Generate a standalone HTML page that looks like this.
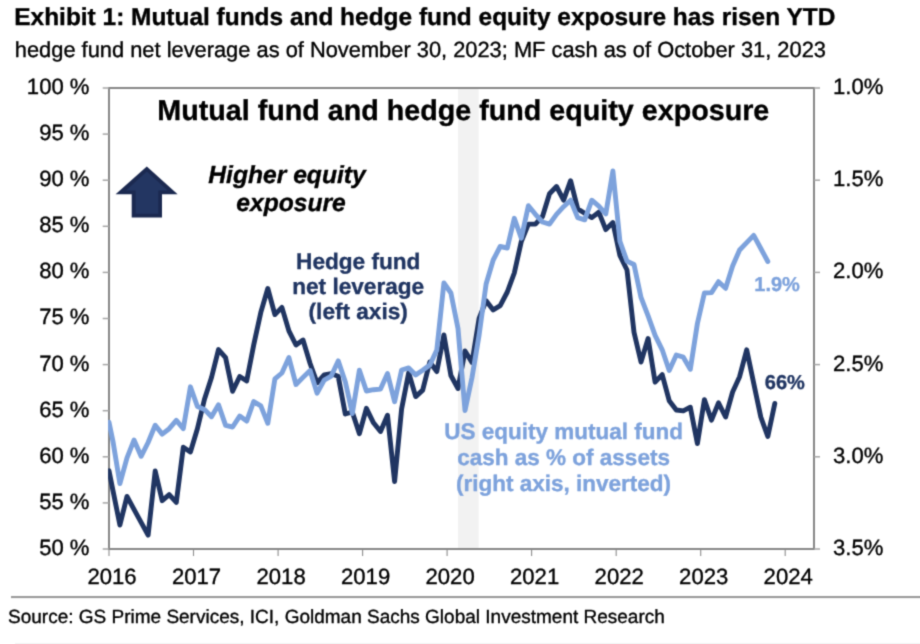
<!DOCTYPE html>
<html><head><meta charset="utf-8"><title>Exhibit 1</title>
<style>html,body{margin:0;padding:0;background:#fff;overflow:hidden}text{text-rendering:geometricPrecision;stroke-width:.35px;stroke-linejoin:round}body{width:920px;height:644px;font-family:"Liberation Sans",sans-serif}</style></head>
<body>
<svg width="920" height="644" viewBox="0 0 920 644" style="display:block;font-family:'Liberation Sans',sans-serif">
<defs><filter id="soft" x="0" y="0" width="920" height="644" filterUnits="userSpaceOnUse" color-interpolation-filters="sRGB"><feConvolveMatrix order="3" kernelMatrix="0.0277 0.1110 0.0277 0.1110 0.4452 0.1110 0.0277 0.1110 0.0277" edgeMode="duplicate" preserveAlpha="true"/></filter><clipPath id="pc"><rect x="108" y="80" width="712" height="475"/></clipPath></defs>
<g filter="url(#soft)">
<rect width="920" height="644" fill="#fff"/>
<text x="14.3" y="24.5" font-size="24.44" font-weight="bold" fill="#000" stroke="#000">Exhibit 1: Mutual funds and hedge fund equity exposure has risen YTD</text>
<text x="14.8" y="57" font-size="21.85" fill="#000" stroke="#000">hedge fund net leverage as of November 30, 2023; MF cash as of October 31, 2023</text>
<rect x="458" y="88" width="20.6" height="461" fill="#f2f2f2"/>
<rect x="109" y="88" width="705" height="461" fill="none" stroke="#878787" stroke-width="2"/>
<line x1="102.7" x2="109" y1="88.0" y2="88.0" stroke="#a6a6a6" stroke-width="1.5"/>
<text x="89.5" y="93.9" font-size="22.1" text-anchor="end" fill="#000" stroke="#000">100 %</text>
<line x1="102.7" x2="109" y1="134.1" y2="134.1" stroke="#a6a6a6" stroke-width="1.5"/>
<text x="89.5" y="140.0" font-size="22.1" text-anchor="end" fill="#000" stroke="#000">95 %</text>
<line x1="102.7" x2="109" y1="180.2" y2="180.2" stroke="#a6a6a6" stroke-width="1.5"/>
<text x="89.5" y="186.1" font-size="22.1" text-anchor="end" fill="#000" stroke="#000">90 %</text>
<line x1="102.7" x2="109" y1="226.3" y2="226.3" stroke="#a6a6a6" stroke-width="1.5"/>
<text x="89.5" y="232.2" font-size="22.1" text-anchor="end" fill="#000" stroke="#000">85 %</text>
<line x1="102.7" x2="109" y1="272.4" y2="272.4" stroke="#a6a6a6" stroke-width="1.5"/>
<text x="89.5" y="278.3" font-size="22.1" text-anchor="end" fill="#000" stroke="#000">80 %</text>
<line x1="102.7" x2="109" y1="318.5" y2="318.5" stroke="#a6a6a6" stroke-width="1.5"/>
<text x="89.5" y="324.4" font-size="22.1" text-anchor="end" fill="#000" stroke="#000">75 %</text>
<line x1="102.7" x2="109" y1="364.6" y2="364.6" stroke="#a6a6a6" stroke-width="1.5"/>
<text x="89.5" y="370.5" font-size="22.1" text-anchor="end" fill="#000" stroke="#000">70 %</text>
<line x1="102.7" x2="109" y1="410.7" y2="410.7" stroke="#a6a6a6" stroke-width="1.5"/>
<text x="89.5" y="416.6" font-size="22.1" text-anchor="end" fill="#000" stroke="#000">65 %</text>
<line x1="102.7" x2="109" y1="456.8" y2="456.8" stroke="#a6a6a6" stroke-width="1.5"/>
<text x="89.5" y="462.7" font-size="22.1" text-anchor="end" fill="#000" stroke="#000">60 %</text>
<line x1="102.7" x2="109" y1="502.9" y2="502.9" stroke="#a6a6a6" stroke-width="1.5"/>
<text x="89.5" y="508.8" font-size="22.1" text-anchor="end" fill="#000" stroke="#000">55 %</text>
<line x1="102.7" x2="109" y1="549.0" y2="549.0" stroke="#a6a6a6" stroke-width="1.5"/>
<text x="89.5" y="554.9" font-size="22.1" text-anchor="end" fill="#000" stroke="#000">50 %</text>
<line x1="814" x2="820" y1="88.0" y2="88.0" stroke="#a6a6a6" stroke-width="1.5"/>
<text x="833" y="93.9" font-size="22.1" fill="#000" stroke="#000">1.0%</text>
<line x1="814" x2="820" y1="180.2" y2="180.2" stroke="#a6a6a6" stroke-width="1.5"/>
<text x="833" y="186.1" font-size="22.1" fill="#000" stroke="#000">1.5%</text>
<line x1="814" x2="820" y1="272.4" y2="272.4" stroke="#a6a6a6" stroke-width="1.5"/>
<text x="833" y="278.3" font-size="22.1" fill="#000" stroke="#000">2.0%</text>
<line x1="814" x2="820" y1="364.6" y2="364.6" stroke="#a6a6a6" stroke-width="1.5"/>
<text x="833" y="370.5" font-size="22.1" fill="#000" stroke="#000">2.5%</text>
<line x1="814" x2="820" y1="456.8" y2="456.8" stroke="#a6a6a6" stroke-width="1.5"/>
<text x="833" y="462.7" font-size="22.1" fill="#000" stroke="#000">3.0%</text>
<line x1="814" x2="820" y1="549.0" y2="549.0" stroke="#a6a6a6" stroke-width="1.5"/>
<text x="833" y="554.9" font-size="22.1" fill="#000" stroke="#000">3.5%</text>
<line x1="109.0" x2="109.0" y1="549" y2="556" stroke="#8c8c8c" stroke-width="1.1"/>
<text x="112.0" y="583.7" font-size="22.1" text-anchor="middle" fill="#000" stroke="#000">2016</text>
<line x1="193.5" x2="193.5" y1="549" y2="556" stroke="#8c8c8c" stroke-width="1.1"/>
<text x="196.5" y="583.7" font-size="22.1" text-anchor="middle" fill="#000" stroke="#000">2017</text>
<line x1="278.1" x2="278.1" y1="549" y2="556" stroke="#8c8c8c" stroke-width="1.1"/>
<text x="281.1" y="583.7" font-size="22.1" text-anchor="middle" fill="#000" stroke="#000">2018</text>
<line x1="362.6" x2="362.6" y1="549" y2="556" stroke="#8c8c8c" stroke-width="1.1"/>
<text x="365.6" y="583.7" font-size="22.1" text-anchor="middle" fill="#000" stroke="#000">2019</text>
<line x1="447.1" x2="447.1" y1="549" y2="556" stroke="#8c8c8c" stroke-width="1.1"/>
<text x="450.1" y="583.7" font-size="22.1" text-anchor="middle" fill="#000" stroke="#000">2020</text>
<line x1="531.6" x2="531.6" y1="549" y2="556" stroke="#8c8c8c" stroke-width="1.1"/>
<text x="534.6" y="583.7" font-size="22.1" text-anchor="middle" fill="#000" stroke="#000">2021</text>
<line x1="616.2" x2="616.2" y1="549" y2="556" stroke="#8c8c8c" stroke-width="1.1"/>
<text x="619.2" y="583.7" font-size="22.1" text-anchor="middle" fill="#000" stroke="#000">2022</text>
<line x1="700.7" x2="700.7" y1="549" y2="556" stroke="#8c8c8c" stroke-width="1.1"/>
<text x="703.7" y="583.7" font-size="22.1" text-anchor="middle" fill="#000" stroke="#000">2023</text>
<line x1="785.2" x2="785.2" y1="549" y2="556" stroke="#8c8c8c" stroke-width="1.1"/>
<text x="788.2" y="583.7" font-size="22.1" text-anchor="middle" fill="#000" stroke="#000">2024</text>
<text x="463.3" y="119.5" font-size="28.7" font-weight="bold" text-anchor="middle" fill="#000" stroke="#000">Mutual fund and hedge fund equity exposure</text>
<text x="287" y="182.5" font-size="24.65" font-weight="bold" font-style="italic" text-anchor="middle" fill="#000" stroke="#000">Higher equity</text>
<text x="291" y="211" font-size="24.65" font-weight="bold" font-style="italic" text-anchor="middle" fill="#000" stroke="#000">exposure</text>
<path d="M146.8,166.6 L177.6,194.2 L162,194.2 L162,217.4 L131.7,217.4 L131.7,194.2 L115.6,194.2 Z" fill="#1b2950"/>
<path d="M146.8,171.6 L167.6,190.5 L158.3,190.5 L158.3,213.7 L135.6,213.7 L135.6,190.5 L126,190.5 Z" fill="#233662"/>
<text x="358.2" y="268.8" font-size="22.6" font-weight="bold" text-anchor="middle" fill="#203562" stroke="#203562">Hedge fund</text>
<text x="358.2" y="293.8" font-size="22.6" font-weight="bold" text-anchor="middle" fill="#203562" stroke="#203562">net leverage</text>
<text x="358.2" y="318.8" font-size="22.6" font-weight="bold" text-anchor="middle" fill="#203562" stroke="#203562">(left axis)</text>
<text x="563.6" y="439.1" font-size="22.5" font-weight="bold" text-anchor="middle" fill="#7da2dc" stroke="#7da2dc">US equity mutual fund</text>
<text x="563.6" y="465.3" font-size="22.5" font-weight="bold" text-anchor="middle" fill="#7da2dc" stroke="#7da2dc">cash as % of assets</text>
<text x="563.6" y="490.5" font-size="22.5" font-weight="bold" text-anchor="middle" fill="#7da2dc" stroke="#7da2dc">(right axis, inverted)</text>
<path d="M109.0,470.8 L112.9,490.2 L119.9,525.0 L127.0,496.4 L134.0,509.3 L141.1,522.3 L148.1,535.2 L155.2,471.0 L162.2,500.7 L169.2,494.7 L176.3,502.4 L183.3,447.2 L190.4,452.0 L197.4,428.7 L204.4,399.5 L211.5,377.5 L218.5,349.6 L225.6,357.7 L232.6,391.3 L239.7,376.5 L246.7,380.9 L253.7,345.0 L260.8,312.4 L267.8,288.5 L274.9,314.6 L281.9,307.4 L288.9,330.9 L296.0,345.0 L303.0,340.0 L310.1,363.5 L317.1,382.8 L324.2,374.9 L331.2,373.7 L338.2,376.3 L345.3,414.0 L352.3,412.0 L359.4,433.7 L366.4,408.3 L373.5,422.8 L380.5,431.5 L387.5,415.2 L394.6,481.5 L401.6,409.0 L408.7,372.7 L415.7,396.6 L422.7,390.1 L429.8,362.0 L436.8,371.6 L443.9,335.0 L450.9,375.5 L458.0,388.5 L465.0,351.0 L472.0,362.4 L479.1,318.3 L486.1,300.7 L493.2,309.9 L500.2,305.7 L507.3,292.0 L514.3,273.0 L521.3,241.5 L528.4,224.1 L535.4,224.1 L542.5,216.5 L549.5,193.7 L556.5,186.5 L563.6,200.2 L570.6,180.7 L577.7,208.9 L584.7,213.3 L591.8,217.6 L598.8,212.2 L605.8,229.6 L612.9,222.6 L619.9,255.5 L627.0,270.0 L634.0,332.2 L641.0,362.0 L648.1,338.5 L655.1,382.2 L662.2,374.6 L669.2,400.7 L676.3,410.0 L683.3,410.9 L690.3,407.2 L697.4,443.5 L704.4,399.6 L711.5,420.2 L718.5,402.8 L725.6,417.0 L732.6,392.0 L739.6,376.7 L746.7,349.8 L753.7,383.3 L760.8,417.0 L767.8,436.5 L774.8,403.5" fill="none" stroke="#203562" stroke-width="4.9" stroke-linejoin="round" stroke-linecap="round" clip-path="url(#pc)"/>
<path d="M109.0,422.3 L112.9,441.0 L119.9,483.6 L127.0,457.8 L134.0,440.1 L141.1,456.3 L148.1,442.5 L155.2,425.3 L162.2,434.1 L169.2,428.7 L176.3,420.4 L183.3,428.7 L190.4,386.8 L197.4,406.5 L204.4,409.4 L211.5,416.7 L218.5,404.8 L225.6,425.4 L232.6,427.0 L239.7,416.1 L246.7,421.1 L253.7,401.5 L260.8,405.9 L267.8,423.3 L274.9,378.9 L281.9,373.0 L288.9,357.6 L296.0,384.5 L303.0,377.4 L310.1,370.5 L317.1,393.2 L324.2,380.1 L331.2,376.1 L338.2,360.9 L345.3,381.7 L352.3,413.5 L359.4,370.2 L366.4,391.0 L373.5,389.7 L380.5,389.1 L387.5,373.5 L394.6,401.7 L401.6,370.0 L408.7,367.9 L415.7,374.9 L422.7,370.3 L429.8,365.1 L436.8,350.0 L443.9,283.0 L450.9,293.0 L458.0,328.5 L465.0,410.5 L472.0,377.5 L479.1,335.0 L486.1,284.0 L493.2,260.0 L500.2,246.5 L507.3,248.0 L514.3,218.3 L521.3,238.3 L528.4,205.7 L535.4,214.3 L542.5,222.0 L549.5,224.1 L556.5,214.3 L563.6,206.7 L570.6,200.2 L577.7,217.6 L584.7,219.8 L591.8,200.2 L598.8,206.1 L605.8,213.9 L612.9,170.9 L619.9,241.2 L627.0,261.3 L634.0,264.5 L641.0,297.4 L648.1,315.9 L655.1,335.4 L662.2,349.8 L669.2,370.5 L676.3,355.0 L683.3,357.2 L690.3,369.3 L697.4,323.5 L704.4,293.0 L711.5,292.6 L718.5,281.7 L725.6,288.3 L732.6,265.9 L739.6,250.0 L746.7,242.6 L753.7,235.4 L760.8,248.5 L767.8,261.5" fill="none" stroke="#7da2dc" stroke-width="4.9" stroke-linejoin="round" stroke-linecap="round" clip-path="url(#pc)"/>
<text x="754.3" y="291.3" font-size="20" font-weight="bold" fill="#7da2dc" stroke="#7da2dc">1.9%</text>
<text x="764.8" y="388.6" font-size="20" font-weight="bold" fill="#203562" stroke="#203562">66%</text>
<rect x="11" y="596" width="909" height="2.1" fill="#9a9a9a"/>
<text x="8" y="622.7" font-size="19" fill="#000" stroke="#000">Source: GS Prime Services, ICI, Goldman Sachs Global Investment Research</text>
<rect x="15" y="643" width="905" height="1" fill="#f2f2f2"/>
</g>
</svg>
</body></html>
